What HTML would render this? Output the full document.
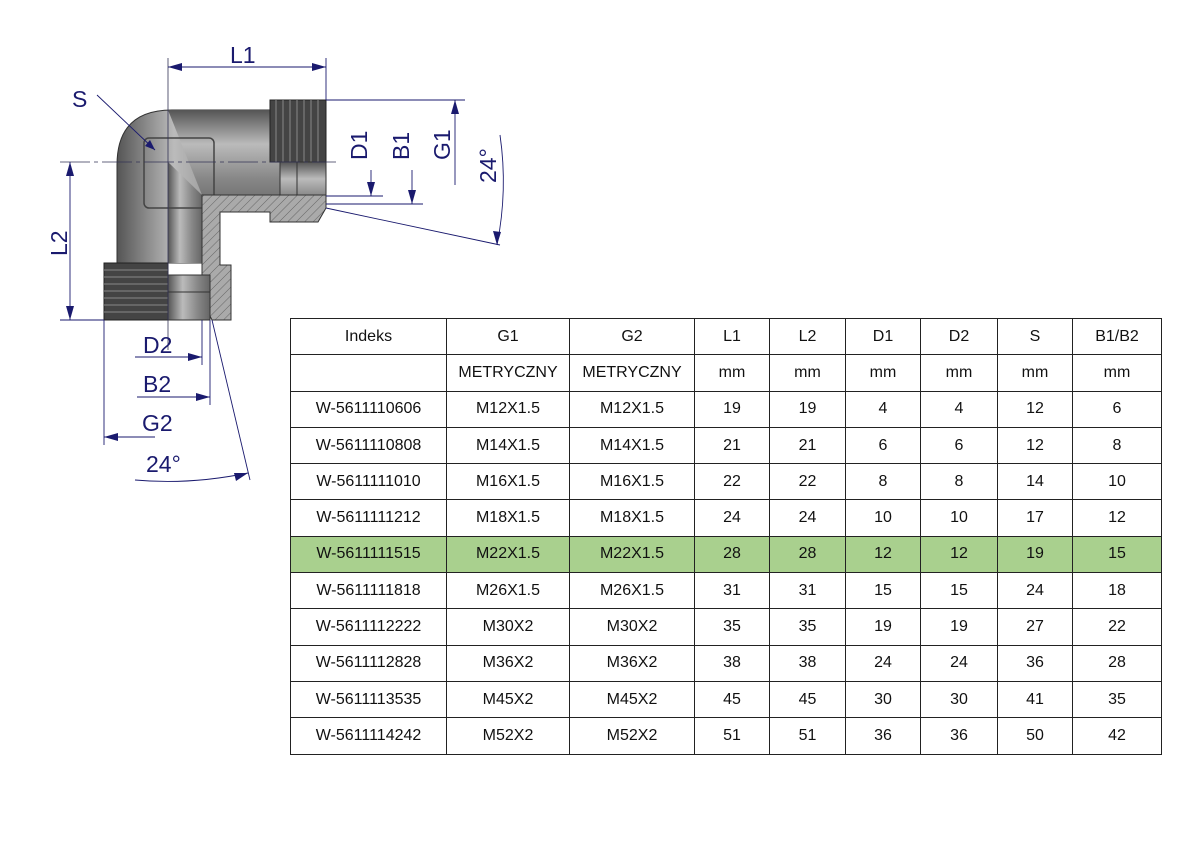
<!DOCTYPE html>
<html><head><meta charset="utf-8"><style>
body{margin:0;width:1191px;height:842px;background:#fff;position:relative;overflow:hidden;font-family:"Liberation Sans",sans-serif}
table{position:absolute;left:290px;top:318px;border-collapse:collapse;font-size:16px}
tr{height:36.3px}
td{border:1.5px solid #222;padding:0;text-align:center;color:#111}
tr.g td{background:#a9d08e}
svg{position:absolute;left:0;top:0}
</style></head><body>
<svg width="1191" height="842" viewBox="0 0 1191 842">
<defs>
<linearGradient id="gv" x1="0" x2="1" y1="0" y2="0"><stop offset="0" stop-color="#555"/><stop offset=".35" stop-color="#bbb"/><stop offset=".7" stop-color="#888"/><stop offset="1" stop-color="#666"/></linearGradient>
<linearGradient id="gh" x1="0" x2="0" y1="0" y2="1"><stop offset="0" stop-color="#555"/><stop offset=".4" stop-color="#bbb"/><stop offset=".8" stop-color="#888"/><stop offset="1" stop-color="#777"/></linearGradient>
<pattern id="hat" width="6" height="6" patternUnits="userSpaceOnUse" patternTransform="rotate(45)"><rect width="6" height="6" fill="#aaa"/><line x1="0" y1="0" x2="0" y2="6" stroke="#666" stroke-width="1"/></pattern>
</defs>
<path d="M117,263 L117,165 Q117,110 172,110 L280,110 L280,195 L202,195 L202,263 Z" fill="url(#gv)" stroke="#333"/>
<path d="M168,110 L280,110 L280,195 L202,195 Z" fill="url(#gh)"/>
<path d="M168,162 L202,195 L202,263 L168,263 Z" fill="url(#gv)"/>
<rect x="144" y="138" width="70" height="70" rx="5" fill="none" stroke="#444" stroke-width="1.5"/>
<rect x="270" y="100" width="56" height="62" fill="#444" stroke="#222"/>
<g stroke="#888" stroke-width="1"><line x1="276" y1="100" x2="276" y2="162"/><line x1="283" y1="100" x2="283" y2="162"/><line x1="290" y1="100" x2="290" y2="162"/><line x1="297" y1="100" x2="297" y2="162"/><line x1="304" y1="100" x2="304" y2="162"/><line x1="311" y1="100" x2="311" y2="162"/><line x1="318" y1="100" x2="318" y2="162"/></g>
<rect x="280" y="162" width="46" height="42" fill="url(#gh)" stroke="#333"/>
<line x1="297" y1="162" x2="297" y2="204" stroke="#333"/>
<path d="M202,195 L326,195 L326,208 L318,222 L270,222 L270,212 L220,212 L220,265 L231,265 L231,320 L212,320 L202,300 Z" fill="url(#hat)" stroke="#333"/>
<rect x="104" y="263" width="64" height="57" fill="#444" stroke="#222"/>
<g stroke="#888"><line x1="104" y1="270" x2="168" y2="270"/><line x1="104" y1="277" x2="168" y2="277"/><line x1="104" y1="284" x2="168" y2="284"/><line x1="104" y1="291" x2="168" y2="291"/><line x1="104" y1="298" x2="168" y2="298"/><line x1="104" y1="305" x2="168" y2="305"/><line x1="104" y1="312" x2="168" y2="312"/></g>
<rect x="168" y="275" width="42" height="45" fill="url(#gv)" stroke="#333"/>
<line x1="168" y1="292" x2="210" y2="292" stroke="#333"/>
<g stroke="#335" stroke-width="0.8"><line x1="60" y1="162" x2="336" y2="162" stroke-dasharray="30 4 4 4"/><line x1="168" y1="58" x2="168" y2="350"/></g>
<g stroke="#1a1a6e" stroke-width="0.9" fill="none">
<line x1="168" y1="67" x2="326" y2="67"/><line x1="326" y1="58" x2="326" y2="100"/>
<line x1="60" y1="320" x2="104" y2="320"/><line x1="70" y1="162" x2="70" y2="320"/>
<line x1="326" y1="100" x2="465" y2="100"/><line x1="455" y1="100" x2="455" y2="185"/>
<line x1="326" y1="196" x2="383" y2="196"/><line x1="371" y1="170" x2="371" y2="196"/>
<line x1="326" y1="204" x2="423" y2="204"/><line x1="412" y1="170" x2="412" y2="204"/>
<line x1="326" y1="208" x2="500" y2="245"/><path d="M500,135 Q508,190 497,245"/>
<line x1="104" y1="320" x2="104" y2="445"/><line x1="104" y1="437" x2="155" y2="437"/>
<line x1="135" y1="357" x2="202" y2="357"/><line x1="202" y1="320" x2="202" y2="365"/>
<line x1="137" y1="397" x2="210" y2="397"/><line x1="210" y1="320" x2="210" y2="405"/>
<line x1="212" y1="320" x2="250" y2="480"/><path d="M135,480 Q190,485 248,473"/>
<line x1="97" y1="95" x2="155" y2="150"/>
</g>
<g fill="#1a1a6e">
<path d="M168,67 l14,-4 v8z"/><path d="M326,67 l-14,-4 v8z"/>
<path d="M70,162 l-4,14 h8z"/><path d="M70,320 l-4,-14 h8z"/>
<path d="M455,100 l-4,14 h8z"/><path d="M371,196 l-4,-14 h8z"/><path d="M412,204 l-4,-14 h8z"/>
<path d="M497,245 l-4,-14 l8,1z"/><path d="M104,437 l14,-4 v8z"/>
<path d="M202,357 l-14,-4 v8z"/><path d="M210,397 l-14,-4 v8z"/><path d="M248,473 l-14,0 l2,8z"/>
<path d="M155,150 l-10,-4 l5,-6z"/>
</g>
<g fill="#1a1a6e" font-family="Liberation Sans,sans-serif" font-size="23">
<text x="230" y="63">L1</text><text x="72" y="107">S</text>
<text transform="translate(67,256) rotate(-90)">L2</text>
<text transform="translate(367,160) rotate(-90)">D1</text>
<text transform="translate(409,160) rotate(-90)">B1</text>
<text transform="translate(450,160) rotate(-90)">G1</text>
<text transform="translate(496,183) rotate(-90)">24°</text>
<text x="143" y="353">D2</text><text x="143" y="392">B2</text><text x="142" y="431">G2</text><text x="146" y="472">24°</text>
</g>
</svg>
<table>
<colgroup><col style="width:156px"><col style="width:123px"><col style="width:125px"><col style="width:75px"><col style="width:76px"><col style="width:75px"><col style="width:77px"><col style="width:75px"><col style="width:89px"></colgroup>
<tr><td>Indeks</td><td>G1</td><td>G2</td><td>L1</td><td>L2</td><td>D1</td><td>D2</td><td>S</td><td>B1/B2</td></tr>
<tr><td></td><td>METRYCZNY</td><td>METRYCZNY</td><td>mm</td><td>mm</td><td>mm</td><td>mm</td><td>mm</td><td>mm</td></tr>
<tr><td>W-5611110606</td><td>M12X1.5</td><td>M12X1.5</td><td>19</td><td>19</td><td>4</td><td>4</td><td>12</td><td>6</td></tr>
<tr><td>W-5611110808</td><td>M14X1.5</td><td>M14X1.5</td><td>21</td><td>21</td><td>6</td><td>6</td><td>12</td><td>8</td></tr>
<tr><td>W-5611111010</td><td>M16X1.5</td><td>M16X1.5</td><td>22</td><td>22</td><td>8</td><td>8</td><td>14</td><td>10</td></tr>
<tr><td>W-5611111212</td><td>M18X1.5</td><td>M18X1.5</td><td>24</td><td>24</td><td>10</td><td>10</td><td>17</td><td>12</td></tr>
<tr class="g"><td>W-5611111515</td><td>M22X1.5</td><td>M22X1.5</td><td>28</td><td>28</td><td>12</td><td>12</td><td>19</td><td>15</td></tr>
<tr><td>W-5611111818</td><td>M26X1.5</td><td>M26X1.5</td><td>31</td><td>31</td><td>15</td><td>15</td><td>24</td><td>18</td></tr>
<tr><td>W-5611112222</td><td>M30X2</td><td>M30X2</td><td>35</td><td>35</td><td>19</td><td>19</td><td>27</td><td>22</td></tr>
<tr><td>W-5611112828</td><td>M36X2</td><td>M36X2</td><td>38</td><td>38</td><td>24</td><td>24</td><td>36</td><td>28</td></tr>
<tr><td>W-5611113535</td><td>M45X2</td><td>M45X2</td><td>45</td><td>45</td><td>30</td><td>30</td><td>41</td><td>35</td></tr>
<tr><td>W-5611114242</td><td>M52X2</td><td>M52X2</td><td>51</td><td>51</td><td>36</td><td>36</td><td>50</td><td>42</td></tr>
</table>
</body></html>
